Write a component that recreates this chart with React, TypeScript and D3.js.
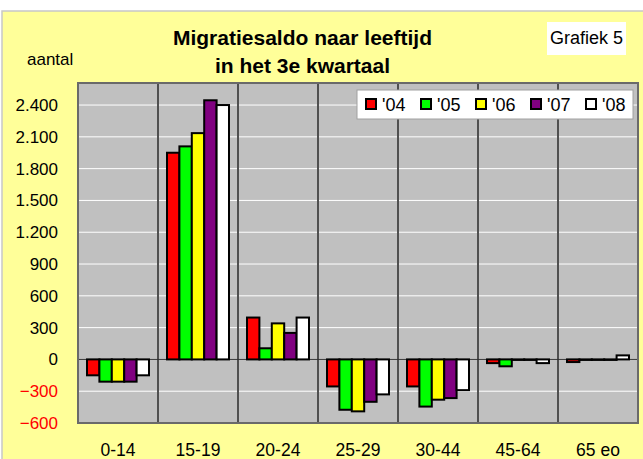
import React, { useEffect } from 'react';
import * as d3 from 'd3';

const categories = ['0-14', '15-19', '20-24', '25-29', '30-44', '45-64', '65 eo'];
const seriesNames = ["'04", "'05", "'06", "'07", "'08"];
const values04 = [-150, 1950, 395, -255, -255, -35, -25];
const values05 = [-210, 2010, 105, -475, -445, -65, -5];
const values06 = [-210, 2135, 340, -490, -380, -5, -5];
const values07 = [-210, 2445, 250, -400, -365, -5, -5];
const values08 = [-150, 2400, 395, -330, -290, -35, 38];
const yTicks = [-600, -300, 0, 300, 600, 900, 1200, 1500, 1800, 2100, 2400];

const COLORS = ['#ff0000', '#00ff00', '#ffff00', '#800080', '#ffffff'];
const FONT = '"Liberation Sans", Arial, sans-serif';

const W = 643;
const H = 459;
const plot = { left: 78, right: 638, top: 83, bottom: 423 };

const fmt = (v: number) => d3.format(',')(v).replace(/,/g, '.');

export default function App() {
  useEffect(() => {
    document.body.style.margin = '0';
  }, []);

  const series = [values04, values05, values06, values07, values08];

  const x = d3.scaleBand().domain(categories).range([plot.left, plot.right]);
  const xInner = d3
    .scaleBand()
    .domain(seriesNames)
    .range([9, x.bandwidth() - 9]);
  const y = d3.scaleLinear().domain([-600, 2608]).range([plot.bottom, plot.top]);

  return (
    <svg width={W} height={H} style={{ display: 'block', fontFamily: FONT }}>
      <rect x={0} y={0} width={W} height={H} fill="#ffffff" />
      {/* outer yellow panel */}
      <rect x={2} y={11} width={W} height={H} fill="#ffff99" stroke="#c8c8c8" strokeWidth={1.5} />

      {/* title */}
      <text x={302.5} y={45} textAnchor="middle" fontSize={21} fontWeight="bold" fill="#000">
        Migratiesaldo naar leeftijd
      </text>
      <text x={302.5} y={73} textAnchor="middle" fontSize={21} fontWeight="bold" fill="#000">
        in het 3e kwartaal
      </text>
      <text x={27} y={65} fontSize={17} fill="#000">
        aantal
      </text>

      <rect x={547} y={22} width={79} height={33} fill="#ffffff" />
      <text x={586.5} y={44} textAnchor="middle" fontSize={18} fill="#000">
        Grafiek 5
      </text>

      {/* plot area */}
      <rect
        x={plot.left}
        y={plot.top}
        width={plot.right - plot.left}
        height={plot.bottom - plot.top}
        fill="#c0c0c0"
      />
      {yTicks.map((t) => (
        <line
          key={'g' + t}
          x1={plot.left}
          x2={plot.right}
          y1={y(t)}
          y2={y(t)}
          stroke="#ffffff"
          strokeWidth={1}
        />
      ))}
      {categories.slice(1).map((c) => (
        <line
          key={'v' + c}
          x1={x(c)}
          x2={x(c)}
          y1={plot.top}
          y2={plot.bottom}
          stroke="#505050"
          strokeWidth={2}
        />
      ))}
      <line x1={plot.left} x2={plot.right} y1={y(0)} y2={y(0)} stroke="#303030" strokeWidth={1} />
      <rect
        x={plot.left}
        y={plot.top}
        width={plot.right - plot.left}
        height={plot.bottom - plot.top}
        fill="none"
        stroke="#6a6a6a"
        strokeWidth={2}
      />

      {/* bars */}
      {series.map((vals, si) =>
        vals.map((v, ci) => (
          <rect
            key={si + '-' + ci}
            x={(x(categories[ci]) || 0) + (xInner(seriesNames[si]) || 0)}
            y={y(Math.max(0, v))}
            width={xInner.bandwidth()}
            height={Math.abs(y(v) - y(0))}
            fill={COLORS[si]}
            stroke="#000"
            strokeWidth={2}
          />
        ))
      )}

      {/* y axis labels */}
      {yTicks.map((t) => (
        <text
          key={'t' + t}
          x={58}
          y={y(t) + 6}
          textAnchor="end"
          fontSize={17}
          fill={t < 0 ? '#ff0000' : '#000'}
        >
          {fmt(t)}
        </text>
      ))}

      {/* x labels */}
      {categories.map((c) => (
        <text
          key={'x' + c}
          x={(x(c) || 0) + x.bandwidth() / 2}
          y={456}
          textAnchor="middle"
          fontSize={17.5}
          fill="#000"
        >
          {c}
        </text>
      ))}

      {/* legend */}
      <rect x={357} y={90} width={276} height={29} fill="#ffffff" stroke="#a0a0a0" strokeWidth={1} />
      {seriesNames.map((s, i) => (
        <g key={'l' + s} transform={`translate(${366 + i * 55},99)`}>
          <rect x={0} y={0} width={10} height={10} fill={COLORS[i]} stroke="#000" strokeWidth={2} />
          <text x={16} y={11.5} fontSize={18} fill="#000">
            {s}
          </text>
        </g>
      ))}
    </svg>
  );
}
